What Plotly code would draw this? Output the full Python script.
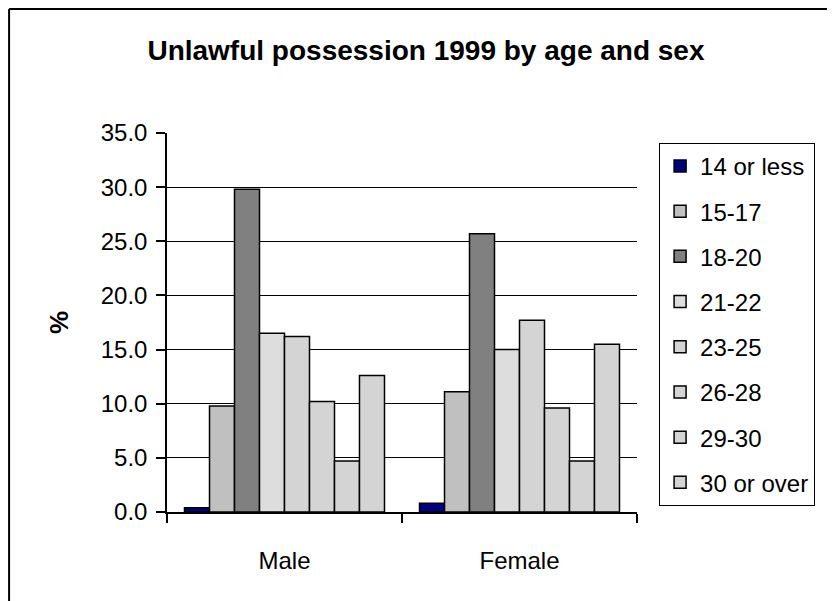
import plotly.graph_objects as go

sexes = ["Male", "Female"]
age_groups = ["14 or less", "15-17", "18-20", "21-22", "23-25", "26-28", "29-30", "30 or over"]
male_pct = [0.4, 9.8, 29.8, 16.5, 16.2, 10.2, 4.7, 12.6]
female_pct = [0.8, 11.1, 25.7, 15.0, 17.7, 9.6, 4.7, 15.5]
bar_colors = ["#000080", "#C0C0C0", "#808080", "#DDDDDD", "#D4D4D4", "#D4D4D4", "#D4D4D4", "#D4D4D4"]

font_family = "Liberation Sans, Arial, sans-serif"

fig = go.Figure()
for i, age in enumerate(age_groups):
    fig.add_trace(go.Bar(
        x=sexes,
        y=[male_pct[i], female_pct[i]],
        name=age,
        legendgroup=age,
        marker=dict(color=bar_colors[i], line=dict(color="black", width=1.5)),
    ))

# page has an 8px body margin, so the figure is a bit smaller than the window
fig.update_layout(
    width=827, height=593,
    paper_bgcolor="white", plot_bgcolor="white",
    font=dict(family=font_family, size=24, color="black"),
    margin=dict(l=159, r=198, t=125, b=89),
    barmode="group", bargap=0.149, bargroupgap=0,
    title=dict(text="<b>Unlawful possession 1999 by age and sex</b>",
               font=dict(size=28), x=0.551, xref="paper", xanchor="center",
               y=1 - 42 / 593, yref="container", yanchor="middle"),
    legend=dict(x=1.047, xanchor="left", y=0.974, yanchor="top",
                bordercolor="black", borderwidth=1, bgcolor="white",
                font=dict(size=24), tracegroupgap=11, traceorder="grouped"),
    showlegend=True,
)

fig.update_yaxes(
    range=[0, 35], dtick=5, tickformat=".1f",
    showgrid=True, gridcolor="black", gridwidth=1,
    showline=True, linecolor="black", linewidth=1.5,
    ticks="outside", ticklen=9, tickcolor="black", tickwidth=1.5,
    ticklabelstandoff=4,
    title=dict(text="<b>%</b>", font=dict(size=26), standoff=25),
    zeroline=False,
)
fig.update_xaxes(
    showline=True, linecolor="black", linewidth=1.5,
    ticks="outside", tickson="boundaries", ticklen=9, tickcolor="black", tickwidth=1.5,
    ticklabelstandoff=26,
    showgrid=False,
)

# outer chart border (left and top edges visible)
fig.add_shape(type="line", xref="paper", yref="paper",
              x0=-0.336, x1=-0.336, y0=1.327, y1=-0.3, line=dict(color="black", width=2))
fig.add_shape(type="line", xref="paper", yref="paper",
              x0=-0.336, x1=1.5, y0=1.327, y1=1.327, line=dict(color="black", width=2))

fig.write_html("out.html")
